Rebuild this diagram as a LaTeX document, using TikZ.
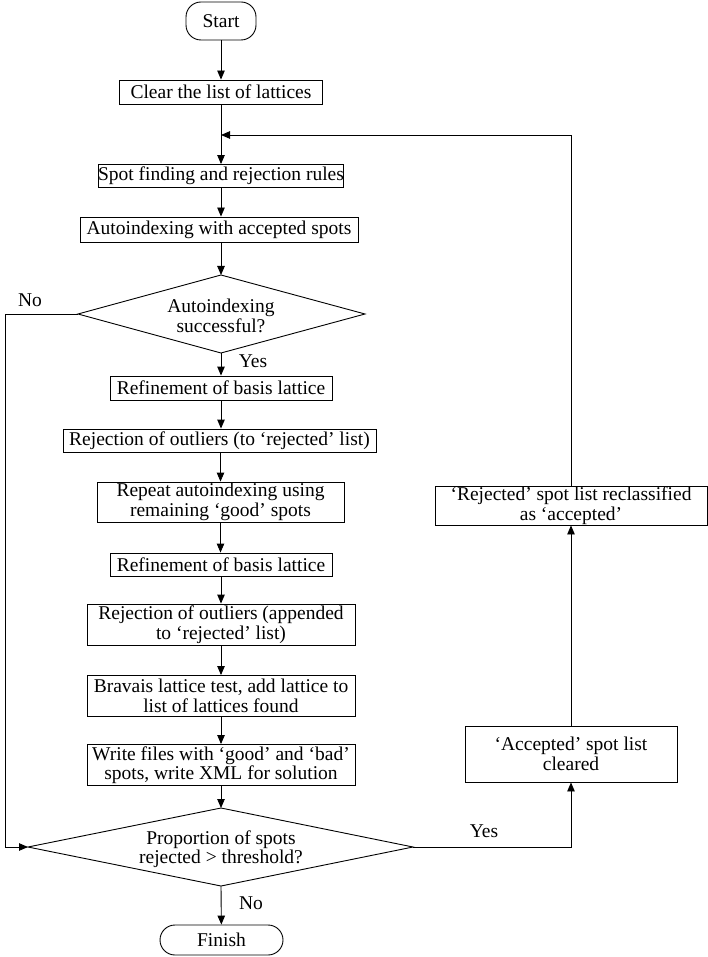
\documentclass[tikz,border=0pt]{standalone}
\usepackage{fontspec}
\setmainfont{Liberation Serif}
\usetikzlibrary{arrows.meta}
\begin{document}
\begin{tikzpicture}[x=1pt,y=-1pt,
  every node/.style={font=\fontsize{19.5}{19.5}\selectfont},
  box/.style={draw,line width=0.9pt,inner sep=0pt,align=center},
  term/.style={draw,line width=0.9pt,rounded corners=15pt,inner sep=0pt},
  arr/.style={line width=0.9pt,-{Triangle[length=9pt,width=7.5pt]}},
  ln/.style={line width=0.9pt}]
\useasboundingbox (0,0) rectangle (708,957);
\node[term,minimum width=70pt,minimum height=38pt] (start) at (221,21) {Start};
\node[box,minimum width=203pt,minimum height=24pt] (clear) at (221,92) {Clear the list of lattices};
\coordinate (j) at (221,135);
\node[box,minimum width=245pt,minimum height=23pt] (spot) at (221,176) {Spot finding and rejection rules};
\node[box,minimum width=278pt,minimum height=25pt] (auto) at (219,229.5) {Autoindexing with accepted spots};
% decision 1
\coordinate (d1n) at (221,275);
\coordinate (d1s) at (221,353);
\coordinate (d1w) at (78,314);
\coordinate (d1e) at (365,314);
\draw[ln] (d1n) -- (d1e) -- (d1s) -- (d1w) -- cycle;
\node[align=center] (d1t) at (221,316) {Autoindexing\\successful?};
\node[box,minimum width=222pt,minimum height=24pt] (ref1) at (221,388) {Refinement of basis lattice};
\node[box,minimum width=313pt,minimum height=23pt] (rej1) at (219.5,440.5) {Rejection of outliers (to `rejected' list)};
\node[box,minimum width=247pt,minimum height=40pt] (rep) at (220.5,502) {Repeat autoindexing using\\remaining `good' spots};
\node[box,minimum width=222pt,minimum height=23pt] (ref2) at (221,564.5) {Refinement of basis lattice};
\node[box,minimum width=268pt,minimum height=41pt] (rej2) at (221,624.5) {Rejection of outliers (appended\\to `rejected' list)};
\node[box,minimum width=268pt,minimum height=41pt] (brav) at (221,696) {Bravais lattice test, add lattice to\\list of lattices found};
\node[box,minimum width=268pt,minimum height=41pt] (write) at (221,765) {Write files with `good' and `bad'\\spots, write XML for solution};
% decision 2
\coordinate (d2n) at (221,808);
\coordinate (d2s) at (221,886);
\coordinate (d2w) at (28,847);
\coordinate (d2e) at (413,847);
\draw[ln] (d2n) -- (d2e) -- (d2s) -- (d2w) -- cycle;
\node[align=center] (d2t) at (221,849) {Proportion of spots\\rejected > threshold?};
\node[term,minimum width=123pt,minimum height=30pt] (finish) at (221.5,940) {Finish};
\node[box,minimum width=212pt,minimum height=56pt] (acc) at (571,754) {`Accepted' spot list\\cleared};
\node[box,minimum width=272pt,minimum height=39pt] (rcl) at (571,505.5) {`Rejected' spot list reclassified\\as `accepted'};
\coordinate (lt) at (5,314);
\coordinate (lb) at (5,847);
\coordinate (rt) at (571,135);
\coordinate (rb) at (571,847);
\draw[arr] (start) -- (clear);
\draw[ln] (clear) -- (j);
\draw[arr] (j) -- (spot);
\draw[arr] (spot) -- (auto.north -| spot.south);
\draw[arr] (auto.south -| d1n) -- (d1n);
\draw[arr] (d1s) -- (ref1);
\draw[arr] (ref1) -- (rej1.north -| ref1.south);
\draw[arr] (rej1.south -| rep.north) -- (rep);
\draw[arr] (rep) -- (rep.south |- ref2.north);
\draw[arr] (ref2) -- (rej2);
\draw[arr] (rej2) -- (brav);
\draw[arr] (brav) -- (write);
\draw[arr] (write) -- (d2n);
\draw[arr] (d2s) -- (finish);
\draw[arr] (d1w) -- (lt) -- (lb) -- (d2w);
\draw[arr] (d2e) -- (rb) -- (acc.south);
\draw[arr] (acc) -- (rcl);
\draw[arr] (rcl.north) -- (rt) -- (j);
\node at (30,300) {No};
\node at (253,361) {Yes};
\node at (484,831) {Yes};
\node at (251,903) {No};
\end{tikzpicture}
\end{document}
